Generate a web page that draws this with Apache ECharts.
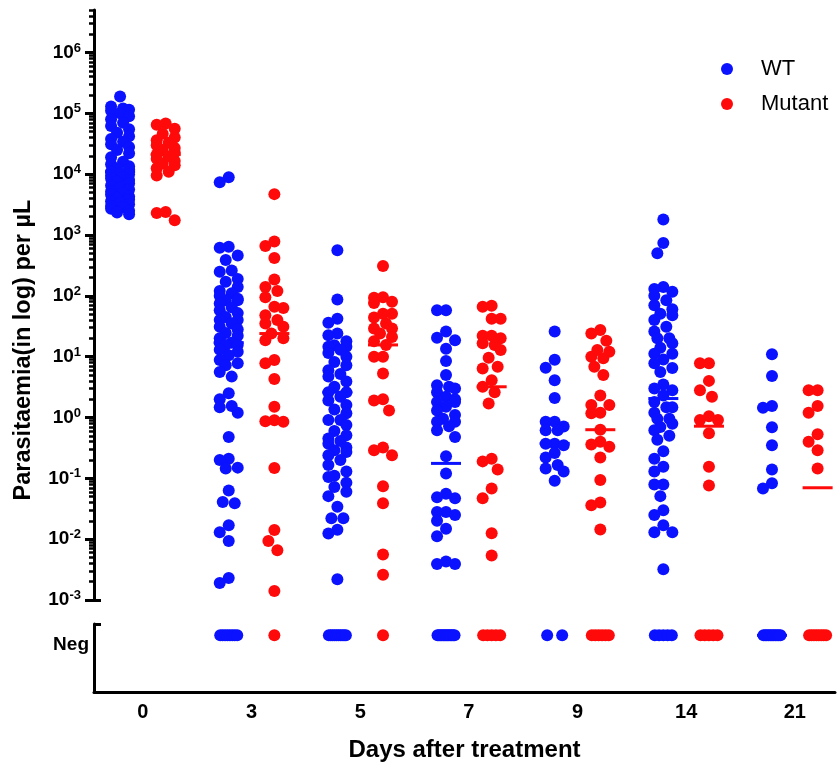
<!DOCTYPE html>
<html><head><meta charset="utf-8">
<script src="https://cdn.jsdelivr.net/npm/echarts@6/dist/echarts.min.js"></script>
<style>html,body{margin:0;padding:0;background:#fff}#main{width:839px;height:767px}</style>
</head><body><div id="main"></div>
<script>
// ---------------- DATA ----------------
const days = ['0', '3', '5', '7', '9', '14', '21'];
const yTicks = [1e-3, 1e-2, 1e-1, 1, 10, 100, 1e3, 1e4, 1e5, 1e6];

const wt0 = [190000, 130000, 120000, 115000, 110000, 100000, 90000, 80000, 70000, 62000, 55000, 48000, 42000, 38000, 34000, 31000, 28000, 25000, 22000, 19000, 16000, 14500, 13500, 12500, 12000, 11000, 10500, 10000, 9500, 9000, 8500, 8000, 7500, 7000, 6500, 6000, 5600, 5200, 4900, 4600, 4300, 4000, 3800, 3600, 3400, 3200, 3000, 2850, 2700, 2500, 2350, 2200];
const wt3 = [8900, 7400, 640, 620, 460, 390, 260, 250, 190, 170, 140, 120, 110, 100, 90, 85, 85, 75, 65, 58, 52, 45, 40, 40, 35, 31, 28, 24.5, 22, 20, 17, 17, 15.5, 15.5, 13, 12, 10.6, 8.8, 7.8, 7.2, 5.6, 4.7, 2.5, 2.0, 1.55, 1.48, 1.2, 0.48, 0.21, 0.20, 0.15, 0.145, 0.063, 0.041, 0.039, 0.017, 0.013, 0.0093, 0.0023, 0.0019];
const wt5 = [560, 87, 42, 36, 24, 22.5, 18, 15.4, 14.5, 14.5, 13, 11.5, 10, 8.2, 7.2, 6.0, 5.2, 4.7, 3.9, 3.2, 2.6, 2.6, 2.2, 1.9, 1.6, 1.35, 1.17, 0.91, 0.91, 0.75, 0.6, 0.51, 0.45, 0.41, 0.37, 0.32, 0.29, 0.27, 0.24, 0.2, 0.165, 0.13, 0.11, 0.105, 0.085, 0.072, 0.06, 0.051, 0.034, 0.022, 0.022, 0.0143, 0.0124, 0.0022];
const wt7 = [58, 58, 26, 20.5, 18.6, 13.5, 8.5, 5.0, 3.4, 3.2, 3.0, 2.6, 2.2, 2.0, 1.8, 1.8, 1.5, 1.3, 1.1, 0.95, 0.85, 0.85, 0.72, 0.62, 0.48, 0.23, 0.12, 0.056, 0.049, 0.047, 0.028, 0.028, 0.025, 0.020, 0.0148, 0.0112, 0.0043, 0.0039, 0.0039];
const wt9 = [26, 8.9, 6.6, 4.1, 2.1, 0.85, 0.85, 0.71, 0.62, 0.62, 0.37, 0.37, 0.35, 0.26, 0.22, 0.165, 0.145, 0.13, 0.091];
const wt14 = [1800, 740, 500, 140, 130, 117, 100, 85, 70, 60, 51, 48, 40, 31, 26, 20, 20, 16.6, 14, 11.2, 11.2, 9, 7.8, 6.5, 5.6, 3.5, 3.0, 2.8, 2.3, 1.8, 1.48, 1.48, 1.2, 0.95, 0.95, 0.79, 0.7, 0.62, 0.5, 0.43, 0.28, 0.21, 0.155, 0.13, 0.079, 0.079, 0.051, 0.030, 0.025, 0.017, 0.013, 0.013, 0.0032];
const wt21 = [11, 4.8, 1.55, 1.45, 0.69, 0.35, 0.14, 0.083, 0.068];

const mut0 = [68000, 65000, 56000, 46000, 40000, 36000, 33000, 30000, 27000, 25000, 23000, 21000, 19500, 18000, 16500, 15000, 14000, 12500, 11000, 9500, 2400, 2300, 1750];
const mut3 = [4700, 780, 660, 420, 186, 140, 120, 95, 66, 63, 48, 40, 35, 31, 24, 20, 18.6, 8.8, 7.8, 4.3, 1.5, 0.9, 0.87, 0.85, 0.148, 0.0142, 0.0093, 0.0066, 0.0014];
const mut5 = [310, 95, 93, 80, 76, 51, 51, 44, 35, 29, 29, 24, 21, 18, 15.5, 10, 10, 5.3, 2.0, 1.9, 1.3, 0.32, 0.29, 0.24, 0.074, 0.039, 0.0056, 0.0026];
const mut7 = [69, 66, 42, 42, 22, 22, 20, 16.6, 15.5, 12.9, 9.6, 6.8, 6.4, 4.1, 3.2, 2.6, 1.7, 0.21, 0.19, 0.14, 0.068, 0.047, 0.0125, 0.0054];
const mut9 = [27.5, 24, 18.2, 12.9, 12, 10, 9.4, 6.8, 5.0, 2.3, 1.6, 1.6, 1.2, 1.17, 0.63, 0.40, 0.36, 0.33, 0.22, 0.094, 0.040, 0.036, 0.0144];
const mut14 = [7.8, 7.8, 4.0, 2.8, 2.2, 1.05, 0.91, 0.91, 0.55, 0.155, 0.076];
const mut21 = [2.8, 2.8, 1.55, 1.2, 0.53, 0.40, 0.29, 0.145];

// number of parasite-negative samples per day
const wtNeg = [0, 8, 10, 13, 2, 5, 11];
const mutNeg = [0, 1, 1, 5, 6, 5, 8];
// medians (0 = Neg)
const wtMedian = [11000, 17, 2.6, 0.176, 0.375, 2.05, 0];
const mutMedian = [21000, 24, 15.6, 3.2, 0.63, 0.72, 0.07];

// ---------------- STYLE / LAYOUT ----------------
const BLUE = '#0a12ff', RED = '#ff0a0a';
const FONT = "'Liberation Sans', Arial, Helvetica, sans-serif";
const NEG_LEVEL = 5;
const SIDE = 0.21;
const XMIN = -0.45, XMAX = 6.37;
const DOT = 12;

const minorTicks = [];
for (let e = -3; e <= 6; e++) for (let m = 2; m <= 9; m++) {
  const v = m * Math.pow(10, e);
  if (v <= 5e6 * 1.0001) minorTicks.push(v);
}

const chart = echarts.init(document.getElementById('main'), null, {renderer: 'canvas'});

const option = {
  animation: false,
  backgroundColor: '#fff',
  textStyle: {fontFamily: FONT},
  grid: [
    {left: 94, right: 4, top: 10, height: 590},
    {left: 94, right: 4, top: 624, height: 68}
  ],
  legend: {
    orient: 'vertical', left: 716, top: 53, itemWidth: 58, itemHeight: 12, itemGap: 13,
    icon: 'circle', selectedMode: false, data: ['WT', 'Mutant'],
    textStyle: {fontSize: 22, color: '#000', fontFamily: FONT, lineHeight: 22}
  },
  xAxis: [
    {gridIndex: 0, type: 'value', min: XMIN, max: XMAX, show: false, splitLine: {show: false}},
    {gridIndex: 1, type: 'value', min: XMIN, max: XMAX, position: 'bottom',
      name: 'Days after treatment', nameLocation: 'middle', nameGap: 46,
      nameTextStyle: {fontSize: 24, fontWeight: 'bold', color: '#000', fontFamily: FONT},
      axisLine: {show: true, onZero: false, lineStyle: {color: '#000', width: 3}},
      axisTick: {show: false}, splitLine: {show: false},
      axisLabel: {customValues: [0, 1, 2, 3, 4, 5, 6], formatter: v => days[Math.round(v)],
        fontSize: 20, fontWeight: 'bold', color: '#000', margin: 10, fontFamily: FONT}}
  ],
  yAxis: [
    {gridIndex: 0, type: 'log', logBase: 10, min: 1e-3, max: 5e6, position: 'left',
      name: 'Parasitaemia(in log) per µL', nameLocation: 'middle', nameGap: 58,
      nameTextStyle: {fontSize: 23.5, fontWeight: 'bold', color: '#000', fontFamily: FONT, padding: [0, 90, 0, 0]},
      axisLine: {show: true, onZero: false, lineStyle: {color: '#000', width: 3}},
      axisTick: {show: true, customValues: yTicks, length: 9, lineStyle: {color: '#000', width: 3}},
      splitLine: {show: false},
      axisLabel: {customValues: yTicks, margin: 13,
        formatter: v => '{b|10}{s|' + Math.round(Math.log10(v)) + '}',
        rich: {
          b: {fontSize: 19, fontWeight: 'bold', color: '#000', lineHeight: 22, fontFamily: FONT},
          s: {fontSize: 13, fontWeight: 'bold', color: '#000', lineHeight: 14, verticalAlign: 'top', fontFamily: FONT}
        }}},
    {gridIndex: 0, type: 'log', logBase: 10, min: 1e-3, max: 5e6, position: 'left',
      axisLine: {show: false, onZero: false}, axisLabel: {show: false}, splitLine: {show: false},
      axisTick: {show: true, customValues: minorTicks, length: 5, lineStyle: {color: '#000', width: 2.5}}},
    {gridIndex: 0, type: 'log', logBase: 10, min: 1e-3, max: 5e6, position: 'left',
      axisLine: {show: false, onZero: false}, axisLabel: {show: false}, splitLine: {show: false},
      axisTick: {show: true, inside: true, customValues: [1e-3], length: 7, lineStyle: {color: '#000', width: 3}}},
    {gridIndex: 1, type: 'value', min: 0, max: 6, position: 'left',
      axisLine: {show: true, onZero: false, lineStyle: {color: '#000', width: 3}},
      axisTick: {show: true, inside: true, customValues: [6], length: 7, lineStyle: {color: '#000', width: 3}},
      splitLine: {show: false},
      axisLabel: {customValues: [4.2], formatter: () => 'Neg', fontSize: 19, fontWeight: 'bold',
        color: '#000', margin: 5, fontFamily: FONT}}
  ],
  series: []
};

chart.setOption(option);

const unit = chart.convertToPixel({xAxisIndex: 0}, 1) - chart.convertToPixel({xAxisIndex: 0}, 0);

// simple beeswarm in pixel space
function swarm(ys, cap) {
  const order = ys.map((y, i) => i).sort((a, b) => ys[a] - ys[b]);
  const placed = [];
  const offs = new Array(ys.length).fill(0);
  const cands = [0];
  for (let k = 1; k * 3 <= cap + 0.01; k++) cands.push(-k * 3, k * 3);
  for (const i of order) {
    let best = 0, bestS = Infinity;
    for (const c of cands) {
      let s = Math.abs(c) * 0.02;
      for (const p of placed) {
        const d = Math.hypot(c - p[0], ys[i] - p[1]);
        if (d < DOT) s += DOT - d;
      }
      if (s < bestS - 1e-9) { bestS = s; best = c; }
    }
    offs[i] = best;
    placed.push([best, ys[i]]);
  }
  return offs;
}

function build(groups, negCounts, medians, side, color, name) {
  const pts = [], negPts = [], med = [], negMed = [];
  groups.forEach((vals, i) => {
    const cx = i + side * SIDE;
    const ys = vals.map(v => chart.convertToPixel({yAxisIndex: 0}, v));
    const offs = swarm(ys, 9);
    vals.forEach((v, k) => pts.push([cx + offs[k] / unit, v]));
    const n = negCounts[i];
    for (let k = 0; k < n; k++) {
      const o = n === 1 ? 0 : (n === 2 ? (k ? 7.5 : -7.5) : -8.5 + 17 * k / (n - 1));
      negPts.push([cx + o / unit, NEG_LEVEL]);
    }
    if (medians[i] > 0) med.push([cx, medians[i]]); else negMed.push([cx, NEG_LEVEL]);
  });
  const common = {name, type: 'scatter', silent: true};
  return [
    Object.assign({}, common, {xAxisIndex: 0, yAxisIndex: 0, data: pts, symbol: 'circle', symbolSize: DOT, itemStyle: {color, opacity: 1}, z: 3}),
    Object.assign({}, common, {xAxisIndex: 1, yAxisIndex: 3, data: negPts, symbol: 'circle', symbolSize: DOT, itemStyle: {color, opacity: 1}, z: 3}),
    Object.assign({}, common, {xAxisIndex: 0, yAxisIndex: 0, data: med, symbol: 'rect', symbolSize: [30, 3], itemStyle: {color, opacity: 1}, z: 2}),
    Object.assign({}, common, {xAxisIndex: 1, yAxisIndex: 3, data: negMed, symbol: 'rect', symbolSize: [30, 3], itemStyle: {color, opacity: 1}, z: 2})
  ];
}

const series = [].concat(
  build([wt0, wt3, wt5, wt7, wt9, wt14, wt21], wtNeg, wtMedian, -1, BLUE, 'WT'),
  build([mut0, mut3, mut5, mut7, mut9, mut14, mut21], mutNeg, mutMedian, 1, RED, 'Mutant')
);
chart.setOption({series});
</script>
</body></html>
